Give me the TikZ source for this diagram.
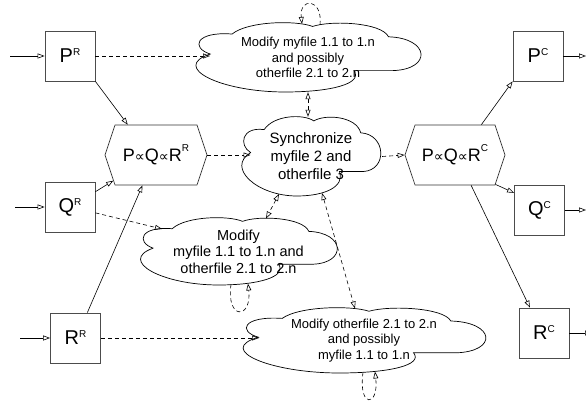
\documentclass[tikz,border=0pt]{standalone}
\usepackage{fontspec}
\setmainfont{Liberation Sans}
\newfontfamily\symfont{DejaVu Sans}
\usetikzlibrary{arrows.meta,shapes.symbols}

% superscripts for the box and hexagon labels
\newcommand\BoxSup[1]{\raisebox{7pt}{\fontsize{10}{12}\selectfont #1}}
\newcommand\HexSup[1]{\raisebox{10pt}{\fontsize{10}{12}\selectfont #1}}
\newcommand\prp{{\symfont\fontsize{14}{14}\selectfont ∝}}

\tikzset{
  opentip/.tip={Triangle[open,length=7pt,width=5pt]},
  link/.style={draw=black, line width=0.6pt, -opentip},
  dlink/.style={link, dash pattern=on 4pt off 3pt},
  twoway/.style={dlink, opentip-opentip},
  loopline/.style={dlink},
  box/.style={draw=black!70, line width=0.8pt, minimum width=50pt,
    minimum height=50pt, inner sep=0pt, font=\fontsize{20}{24}\selectfont},
  hexbox/.style={signal, signal to=west and east, signal pointer angle=143,
    draw=black!80, line width=0.7pt, minimum width=#1, minimum height=60pt,
    inner sep=0pt, font=\fontsize{18}{22}\selectfont},
  cloudline/.style={draw=black, line width=0.7pt, fill=white},
  cloudtext/.style={align=center, inner sep=0pt, font=\fontsize{13}{15.5}\selectfont},
}

% cloud outline in a unit box, then the named text node over it
% [#1] node options, #2 name, #3 centre x, #4 centre y, #5 width, #6 height, #7 text
\newcommand\cloudnode[7][]{%
  \begin{scope}[shift={(#3-#5/2,#4-#6/2)}, xscale=#5, yscale=#6]
    \path[cloudline] (0.075,0.55)
      .. controls (-0.01,0.64) and (0.01,0.88) .. (0.17,0.84)
      .. controls (0.24,1.03) and (0.45,1.04) .. (0.52,0.95)
      .. controls (0.60,1.04) and (0.82,1.01) .. (0.85,0.80)
      .. controls (1.03,0.78) and (1.04,0.33) .. (0.87,0.31)
      -- (0.70,0.31)
      .. controls (0.74,0.12) and (0.60,0.0) .. (0.40,0.0)
      .. controls (0.12,0.0) and (-0.10,0.36) .. cycle;
  \end{scope}
  \node[cloudtext, minimum width=#5pt, minimum height=#6pt, #1] (#2) at (#3,#4) {#7};
}

\begin{document}
\begin{tikzpicture}[x=1pt, y=1pt]
  \fill[white] (0,0) rectangle (586,403);
  \useasboundingbox (0,0) rectangle (586,403);

  % clouds
  \cloudnode{cMod1}{308}{345.5}{230}{69}{Modify myfile 1.1 to 1.n\\and possibly\\otherfile 2.1 to 2.n}
  \cloudnode[font=\fontsize{15}{18}\selectfont]{cSync}{311}{246.5}{142}{79}{Synchronize\\myfile 2 and\\otherfile 3}
  \cloudnode[font=\fontsize{14.5}{16.5}\selectfont]{cMod2}{238.5}{151.5}{201}{67}{Modify\\myfile 1.1 to 1.n and\\otherfile 2.1 to 2.n}
  \cloudnode{cMod3}{364}{62.5}{248}{65}{Modify otherfile 2.1 to 2.n\\and possibly\\myfile 1.1 to 1.n}

  % boxes
  \node[box] (pR) at (70,347)   {P\BoxSup{R}};
  \node[box] (qR) at (70,196)   {Q\BoxSup{R}};
  \node[box] (rR) at (75.5,65)  {R\BoxSup{R}};
  \node[box] (pC) at (538,347)  {P\BoxSup{C}};
  \node[box] (qC) at (539.5,193){Q\BoxSup{C}};
  \node[box] (rC) at (544,70)   {R\BoxSup{C}};

  % hexagons
  \node[hexbox=102pt] (hL) at (156,248) {P\prp Q\prp R\HexSup{R}};
  \node[hexbox=100pt] (hR) at (455,248) {P\prp Q\prp R\HexSup{C}};

  % free ends of inputs and outputs
  \coordinate (inP) at (10,347);
  \coordinate (inQ) at (15,196);
  \coordinate (inR) at (20,65);
  \coordinate (outP) at (586,347);
  \coordinate (outQ) at (586,193);
  \coordinate (outR) at (592,70);

  \draw[link] (inP) -- (pR.west);
  \draw[link] (inQ) -- (qR.west);
  \draw[link] (inR) -- (rR.west);
  \draw[link] (pC.east) -- (outP);
  \draw[link] (qC.east) -- (outQ);
  \draw[link] (rC.east) -- (outR);

  % into the left hexagon
  \draw[link] (pR.south east) -- (hL.133);
  \draw[link] (qR.31) -- (hL.211);
  \draw[link] (rR.65) -- (hL.246);

  % out of the right hexagon
  \draw[link] (hR.49) -- (pC.south west);
  \draw[link] (hR.-36) -- (qC.146);
  \draw[link] (hR.-62) -- (rC.119);

  % dashed links to the clouds
  \draw[dlink] (pR.east) -- ([shift={(-98pt,1.5pt)}]cMod1.center);
  \draw[dlink] (qR.-13) -- ([shift={(-76.5pt,22.5pt)}]cMod2.center);
  \draw[dlink] (rR.east) -- ([shift={(-105pt,2.5pt)}]cMod3.center);
  \draw[dlink] (hL.east) -- ([shift={(-60.5pt,1.5pt)}]cSync.center);
  \draw[dlink] (cSync.east) -- (hR.west);

  % two-way links from the synchronisation cloud
  \draw[twoway] (cMod1.south) -- (cMod1.south |- cSync.north);
  \draw[twoway] ([shift={(-32pt,-37.5pt)}]cSync.center) -- ([shift={(27.5pt,33pt)}]cMod2.center);
  \draw[twoway] ([shift={(11pt,-36.5pt)}]cSync.center) -- ([shift={(-9pt,32pt)}]cMod3.center);

  % self loops
  \draw[loopline] ([shift={(12pt,32.6pt)}]cMod1.center)
    .. controls +(3,27) and +(-3,27) .. ([shift={(-6pt,33.5pt)}]cMod1.center);
  \draw[loopline] ([shift={(-7.5pt,-33pt)}]cMod2.center)
    .. controls +(-5,-36) and +(4,-36) .. ([shift={(9.5pt,-32pt)}]cMod2.center);
  \draw[loopline] ([shift={(-1pt,-32pt)}]cMod3.center)
    .. controls +(-5,-36) and +(4,-36) .. ([shift={(11pt,-31pt)}]cMod3.center);
\end{tikzpicture}
\end{document}
